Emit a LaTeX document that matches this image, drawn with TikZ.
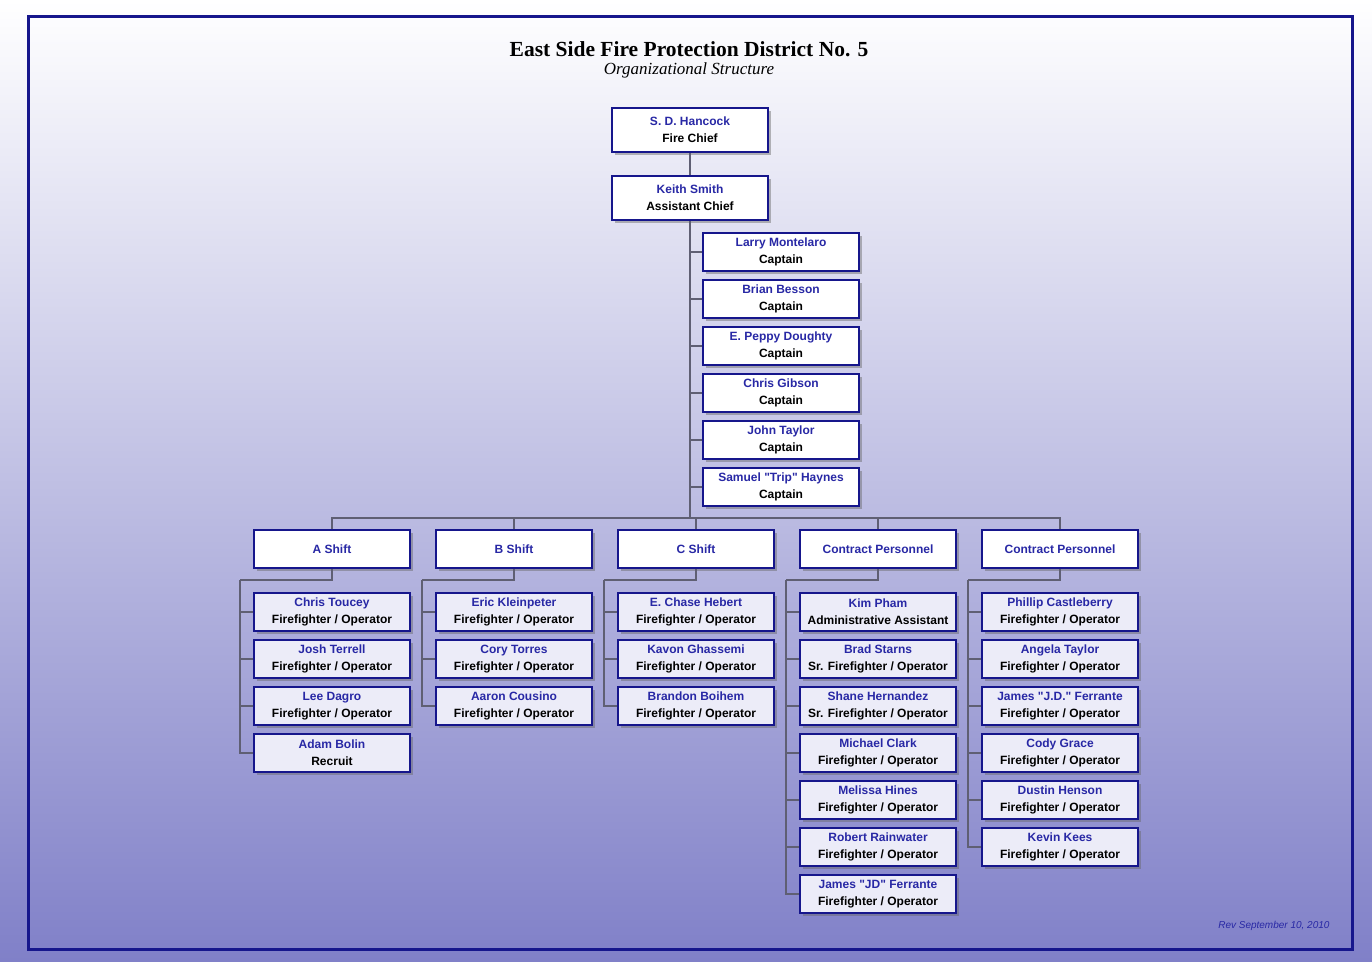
\documentclass[tikz,border=0pt]{standalone}
\usepackage{fontspec}
\setmainfont{Liberation Sans}[Ligatures=TeXOff]
\newfontfamily\titlefont{Liberation Serif}
\usepackage{xcolor}
\usepackage{tikz}
\usetikzlibrary{positioning,shadows,calc}
\definecolor{navy}{RGB}{22,22,140}
\definecolor{namecol}{RGB}{40,40,165}
\definecolor{bgbot}{RGB}{128,128,200}
\definecolor{wirecol}{RGB}{95,95,115}
\definecolor{crewfill}{RGB}{236,236,248}
\newcommand{\ffo}{Firefighter / Operator}
\newcommand{\sffo}{Sr. Firefighter / Operator}

\begin{document}
\begin{tikzpicture}[
  x=1pt, y=-1pt,
  box/.style={draw=navy, line width=2pt, fill=white, minimum width=156pt, minimum height=38pt,
    align=center, inner sep=0pt, font=\bfseries\fontsize{12}{17}\selectfont,
    drop shadow={shadow xshift=2.5pt, shadow yshift=-2.5pt, fill=black!60, opacity=0.45}},
  chiefbox/.style={box, minimum height=44pt},
  crew/.style={box, fill=crewfill},
  wire/.style={draw=wirecol, line width=1.2pt},
  who/.style={text=namecol}
]
% background and frame
\shade[top color=white, bottom color=bgbot] (0,0) rectangle (1372,961);
\useasboundingbox (0,0) rectangle (1372,961);
\draw[navy, line width=3pt] (28,16) rectangle (1352,949);

\node[font=\titlefont\bfseries\fontsize{21.5}{24}\selectfont] (title) at (689,49) {East Side Fire Protection District No. 5};
\node[font=\titlefont\itshape\fontsize{17}{19}\selectfont, below=-1pt of title] (subtitle) {Organizational Structure};

% chiefs
\node[chiefbox] (chief) at (690,130) {\textcolor{namecol}{S. D. Hancock}\\Fire Chief};
\node[chiefbox] (asst) at (690,198) {\textcolor{namecol}{Keith Smith}\\Assistant Chief};
\draw[wire] (chief) -- (asst);

% captains
\foreach \nm [count=\k] in {Larry Montelaro, Brian Besson, E. Peppy Doughty, Chris Gibson, John Taylor, Samuel "Trip" Haynes} {
  \node[box] (cap\k) at (781,{252+47*(\k-1)}) {\textcolor{namecol}{\nm}\\Captain};
  \draw[wire] (cap\k.west) -| (asst.south);
}

% shifts
\coordinate (bus) at (690,518);
\draw[wire] (asst) -- (bus);
\foreach \col/\x/\hd in {A/332/A Shift, B/514/B Shift, C/696/C Shift, D/878/Contract Personnel, E/1060/Contract Personnel} {
  \node[box, who] (sh\col) at (\x,549) {\hd};
  \draw[wire] (sh\col.north) |- (bus);
  \coordinate (sp\col) at ($(sh\col.south west)+(-13,11)$);
  \draw[wire] (sh\col.south) |- (sp\col);
}

% crews
\foreach \col/\x/\people in {
  A/332/{Chris Toucey/\ffo, Josh Terrell/\ffo, Lee Dagro/\ffo, Adam Bolin/Recruit},
  B/514/{Eric Kleinpeter/\ffo, Cory Torres/\ffo, Aaron Cousino/\ffo},
  C/696/{E. Chase Hebert/\ffo, Kavon Ghassemi/\ffo, Brandon Boihem/\ffo},
  D/878/{Kim Pham/Administrative Assistant, Brad Starns/\sffo, Shane Hernandez/\sffo,
    Michael Clark/\ffo, Melissa Hines/\ffo, Robert Rainwater/\ffo, James "JD" Ferrante/\ffo},
  E/1060/{Phillip Castleberry/\ffo, Angela Taylor/\ffo, James "J.D." Ferrante/\ffo,
    Cody Grace/\ffo, Dustin Henson/\ffo, Kevin Kees/\ffo}} {
  \foreach \nm/\role [count=\k] in \people {
    \node[crew] (c\col\k) at (\x,{612+47*(\k-1)}) {\textcolor{namecol}{\nm}\\\role};
    \draw[wire] (c\col\k.west) -| (sp\col);
  }
}

\node[anchor=east, font=\itshape\fontsize{10}{11}\selectfont, text=namecol] (rev) at (1333,926) {Rev September 10, 2010};
\end{tikzpicture}
\end{document}
